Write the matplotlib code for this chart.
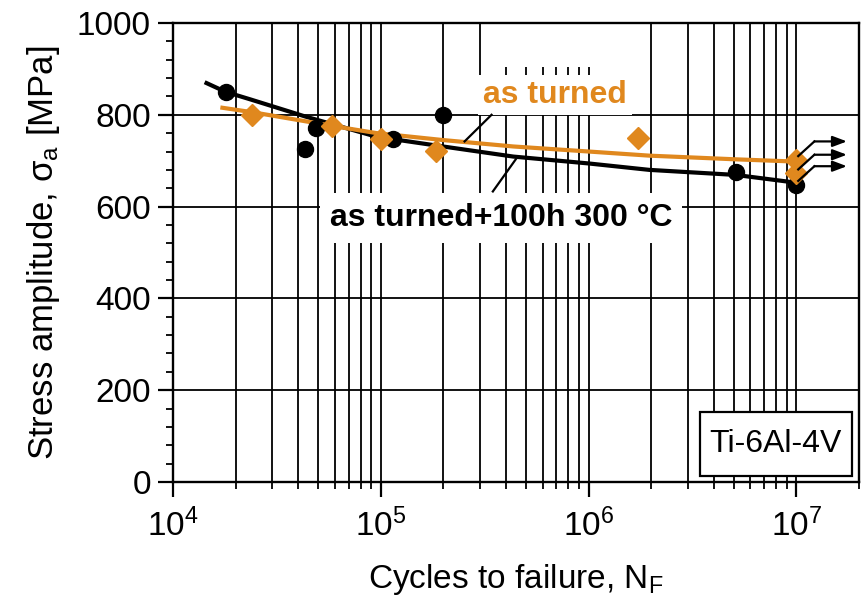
import numpy as np
import matplotlib
matplotlib.use("Agg")
import matplotlib.pyplot as plt
from matplotlib.ticker import FixedLocator, MultipleLocator, LogLocator, NullFormatter
from matplotlib.patches import Rectangle

plt.rcParams['font.family'] = ['Liberation Sans', 'DejaVu Sans']
plt.rcParams['mathtext.fontset'] = 'custom'
plt.rcParams['mathtext.rm'] = 'Liberation Sans'
plt.rcParams['mathtext.it'] = 'Liberation Sans'
plt.rcParams['mathtext.default'] = 'regular'

# ---- data ----
# as turned + 100h 300 °C (black)
heat_N = [1.8e4, 4.3e4, 4.9e4, 1.14e5, 2.0e5, 5.1e6, 1.0e7]
heat_S = [850, 725, 772, 748, 800, 675, 648]
# as turned (orange)
turn_N = [2.4e4, 5.8e4, 1.0e5, 1.85e5, 1.73e6, 1.0e7, 1.0e7]
turn_S = [800, 775, 748, 722, 749, 702, 673]

# fitted curves
heat_fit_N = [1.42e4, 1.79e4, 2.34e4, 4.35e4, 9.57e4, 1.99e5, 4.34e5, 1.0e6, 1.96e6, 5.1e6, 1.0e7]
heat_fit_S = [871, 850, 834, 796, 752, 731, 709, 694, 680, 669, 652]
turn_fit_N = [1.69e4, 2.46e4, 5.81e4, 9.57e4, 1.99e5, 4.34e5, 1.0e6, 1.96e6, 5.1e6, 1.0e7]
turn_fit_S = [816, 805, 776, 760, 745, 731, 720, 711, 703, 698]

# run-outs (arrows)
runout_N = [1.0e7, 1.0e7, 1.0e7]
runout_S = [702, 673, 648]

yticks = [0, 200, 400, 600, 800, 1000]
xticks = [1e4, 1e5, 1e6, 1e7]
xtick_labels = ['$10^{4}$', '$10^{5}$', '$10^{6}$', '$10^{7}$']

ORANGE = '#E0881E'

fig = plt.figure(figsize=(8.63, 5.99), dpi=100)
ax = fig.add_axes([173/863, 117/599, 686/863, 459/599])
ax.set_xscale('log')
ax.set_xlim(1e4, 2e7)
ax.set_ylim(0, 1000)

# grid
ax.set_axisbelow(True)
ax.xaxis.set_major_locator(FixedLocator(xticks))
ax.xaxis.set_minor_locator(LogLocator(base=10, subs=np.arange(2, 10), numticks=20))
ax.xaxis.set_minor_formatter(NullFormatter())
ax.set_xticks(xticks)
ax.set_xticklabels(xtick_labels)
ax.set_yticks(yticks)
ax.yaxis.set_minor_locator(MultipleLocator(40))
ax.grid(True, which='major', color='black', lw=1.3)
ax.grid(True, which='minor', axis='x', color='black', lw=1.3)

for s in ax.spines.values():
    s.set_linewidth(1.7)
ax.tick_params(which='major', direction='out', length=11, width=1.6, labelsize=24, colors='black')
ax.tick_params(which='minor', direction='out', length=5, width=1.3)
ax.tick_params(axis='y', which='major', pad=5)
ax.tick_params(axis='x', which='major', pad=8)

# blank (white) patch at the top between 3e5 and 2e6 lines, as in the reference
ax.add_patch(Rectangle((0.458, 0.904), 0.162, 0.096, transform=ax.transAxes,
                       facecolor='white', edgecolor='none', zorder=2.2))

# curves
ax.plot(heat_fit_N, heat_fit_S, color='black', lw=3.0, zorder=3, solid_capstyle='butt')
ax.plot(turn_fit_N, turn_fit_S, color=ORANGE, lw=3.0, zorder=3, solid_capstyle='butt')

# points
ax.plot(heat_N, heat_S, 'o', color='black', ms=11.5, zorder=4)
ax.plot(turn_N, turn_S, 'D', color=ORANGE, ms=11.5, zorder=5)

# run-out arrows
for n, s in zip(runout_N, runout_S):
    x0, y0 = n * 1.02, s + 8
    x1, y1 = n * 1.22, s + 40
    x2 = n * 1.75
    ax.plot([x0, x1], [y0, y1], color='black', lw=1.6, zorder=6)
    ax.annotate('', xy=(x2, y1), xytext=(x1, y1),
                arrowprops=dict(arrowstyle='-|>,head_length=0.85,head_width=0.32',
                                mutation_scale=10, color='black', lw=1.6,
                                shrinkA=0, shrinkB=0), zorder=6)

# labels with white background
ax.text(6.9e5, 843, 'as turned', color=ORANGE, fontsize=23, fontweight='bold',
        ha='center', va='center', zorder=2.5,
        bbox=dict(facecolor='white', edgecolor='none', pad=4))
ax.plot([3.41e5, 2.53e5], [800, 742], color='black', lw=1.6, zorder=3)

ax.text(3.78e5, 575, 'as turned+100h 300 °C', color='black', fontsize=23, fontweight='bold',
        ha='center', va='center', zorder=2.5,
        bbox=dict(facecolor='white', edgecolor='none', pad=7))
ax.plot([4.46e5, 3.46e5], [703, 633], color='black', lw=1.6, zorder=3)

# material box
ax.add_patch(Rectangle((0.768, 0.013), 0.2216, 0.1394, transform=ax.transAxes,
                       facecolor='white', edgecolor='black', lw=1.6, zorder=2.5))
ax.text(0.768 + 0.1108, 0.013 + 0.0697, 'Ti-6Al-4V', transform=ax.transAxes,
        fontsize=23, ha='center', va='center', zorder=2.6)

ax.set_ylabel('Stress amplitude, σ$_\\mathregular{a}$ [MPa]', fontsize=25, labelpad=11)
ax.set_xlabel('Cycles to failure, N$_\\mathregular{F}$', fontsize=24, labelpad=14)

fig.savefig('out.png', dpi=100)
